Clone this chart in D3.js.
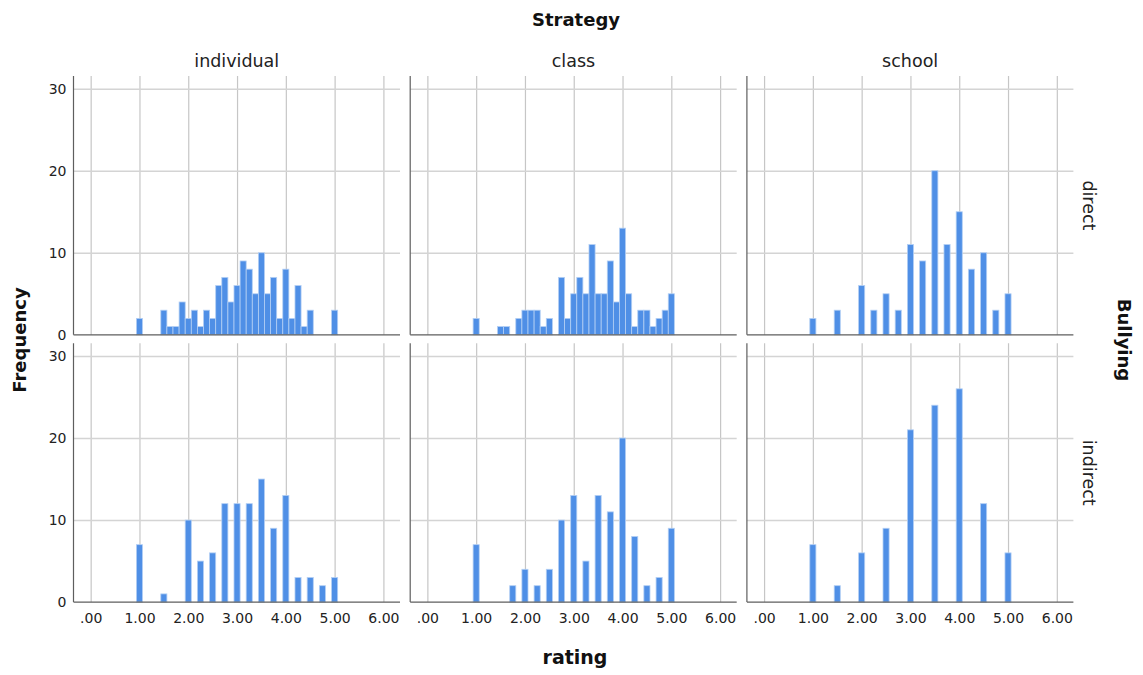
<!DOCTYPE html>
<html>
<head>
<meta charset="utf-8">
<script src="https://cdn.jsdelivr.net/npm/d3@7"></script>
<style>
  html, body { margin: 0; padding: 0; background: #ffffff; }
  svg { display: block; font-family: "DejaVu Sans", sans-serif; }
</style>
</head>
<body>
<svg id="chart" width="1143" height="675"></svg>
<script>
// ---------------- data ----------------
const strategies = ["individual", "class", "school"];
const bullyingTypes = ["direct", "indirect"];
const xTicks = [0, 1, 2, 3, 4, 5, 6];
const yTicks = [0, 10, 20, 30];
const binWidth = 0.125;

const individualDirectRating = [1.0, 1.5, 1.625, 1.75, 1.875, 2.0, 2.125, 2.25, 2.375, 2.5, 2.625, 2.75, 2.875, 3.0, 3.125, 3.25, 3.375, 3.5, 3.625, 3.75, 3.875, 4.0, 4.125, 4.25, 4.375, 4.5, 5.0];
const individualDirectFreq   = [2, 3, 1, 1, 4, 2, 3, 1, 3, 2, 6, 7, 4, 6, 9, 8, 5, 10, 5, 7, 2, 8, 2, 6, 1, 3, 3];

const classDirectRating = [1.0, 1.5, 1.625, 1.875, 2.0, 2.125, 2.25, 2.375, 2.5, 2.75, 2.875, 3.0, 3.125, 3.25, 3.375, 3.5, 3.625, 3.75, 3.875, 4.0, 4.125, 4.25, 4.375, 4.5, 4.625, 4.75, 4.875, 5.0];
const classDirectFreq   = [2, 1, 1, 2, 3, 3, 3, 1, 2, 7, 2, 5, 7, 5, 11, 5, 5, 9, 4, 13, 5, 1, 3, 3, 1, 2, 3, 5];

const schoolDirectRating = [1.0, 1.5, 2.0, 2.25, 2.5, 2.75, 3.0, 3.25, 3.5, 3.75, 4.0, 4.25, 4.5, 4.75, 5.0];
const schoolDirectFreq   = [2, 3, 6, 3, 5, 3, 11, 9, 20, 11, 15, 8, 10, 3, 5];

const individualIndirectRating = [1.0, 1.5, 2.0, 2.25, 2.5, 2.75, 3.0, 3.25, 3.5, 3.75, 4.0, 4.25, 4.5, 4.75, 5.0];
const individualIndirectFreq   = [7, 1, 10, 5, 6, 12, 12, 12, 15, 9, 13, 3, 3, 2, 3];

const classIndirectRating = [1.0, 1.75, 2.0, 2.25, 2.5, 2.75, 3.0, 3.25, 3.5, 3.75, 4.0, 4.25, 4.5, 4.75, 5.0];
const classIndirectFreq   = [7, 2, 4, 2, 4, 10, 13, 5, 13, 11, 20, 8, 2, 3, 9];

const schoolIndirectRating = [1.0, 1.5, 2.0, 2.5, 3.0, 3.5, 4.0, 4.5, 5.0];
const schoolIndirectFreq   = [7, 2, 6, 9, 21, 24, 26, 12, 6];

// table built from the arrays above
const panels = [
  { row: 0, col: 0, rating: individualDirectRating, freq: individualDirectFreq },
  { row: 0, col: 1, rating: classDirectRating, freq: classDirectFreq },
  { row: 0, col: 2, rating: schoolDirectRating, freq: schoolDirectFreq },
  { row: 1, col: 0, rating: individualIndirectRating, freq: individualIndirectFreq },
  { row: 1, col: 1, rating: classIndirectRating, freq: classIndirectFreq },
  { row: 1, col: 2, rating: schoolIndirectRating, freq: schoolIndirectFreq }
];

// ---------------- layout ----------------
const left0 = 73.5, colStep = 336.7, panelW = 326.5;
const top0 = 76, rowStep = 267.3, panelH = 258.8;

const x = d3.scaleLinear().domain([-0.352, 6.34]).range([0, panelW]);
const y = d3.scaleLinear().domain([0, 31.55]).range([panelH, 0]);

const barColor = "#4f8fe6";
const barStroke = "#b3cff4";
const fmtX = d => d3.format(".2f")(d).replace(/^0\./, ".");

const svg = d3.select("#chart");

panels.forEach(p => {
  const g = svg.append("g")
    .attr("transform", `translate(${left0 + p.col * colStep},${top0 + p.row * rowStep})`);

  // vertical gridlines
  g.append("g")
    .attr("transform", `translate(0,${panelH})`)
    .call(d3.axisBottom(x).tickValues(xTicks).tickSize(-panelH).tickFormat(""))
    .call(a => a.select(".domain").remove())
    .call(a => a.selectAll("line").attr("stroke", "#c6c6c6").attr("stroke-width", 1.2));

  // horizontal gridlines
  g.append("g")
    .call(d3.axisLeft(y).tickValues(yTicks.filter(v => v > 0)).tickSize(-panelW).tickFormat(""))
    .call(a => a.select(".domain").remove())
    .call(a => a.selectAll("line").attr("stroke", "#d4d4d4").attr("stroke-width", 1.6));

  // bars
  const data = p.rating.map((r, i) => ({ r, f: p.freq[i] }));
  g.selectAll("rect.bar").data(data).join("rect")
    .attr("class", "bar")
    .attr("x", d => x(d.r - binWidth / 2))
    .attr("width", d => x(d.r + binWidth / 2) - x(d.r - binWidth / 2))
    .attr("y", d => y(d.f))
    .attr("height", d => y(0) - y(d.f))
    .attr("fill", barColor)
    .attr("stroke", barStroke)
    .attr("stroke-width", 0.8);

  // axis lines
  g.append("line").attr("x1", 0).attr("x2", panelW).attr("y1", panelH).attr("y2", panelH)
    .attr("stroke", "#5e5e5e").attr("stroke-width", 1.2);
  g.append("line").attr("x1", 0).attr("x2", 0).attr("y1", 0).attr("y2", panelH)
    .attr("stroke", "#5e5e5e").attr("stroke-width", 1.2);

  // y tick labels (first column only)
  if (p.col === 0) {
    g.append("g")
      .call(d3.axisLeft(y).tickValues(yTicks).tickSize(0).tickPadding(7))
      .call(a => a.select(".domain").remove())
      .call(a => a.selectAll("text").attr("font-size", 14).attr("fill", "#222")
        .attr("font-family", "DejaVu Sans, sans-serif"));
  }

  // x tick labels (bottom row only)
  if (p.row === 1) {
    g.append("g")
      .attr("transform", `translate(0,${panelH})`)
      .call(d3.axisBottom(x).tickValues(xTicks).tickSize(0).tickPadding(11).tickFormat(fmtX))
      .call(a => a.select(".domain").remove())
      .call(a => a.selectAll("text").attr("font-size", 14).attr("fill", "#222")
        .attr("font-family", "DejaVu Sans, sans-serif"));
  }
});

// column headers
strategies.forEach((s, i) => {
  svg.append("text")
    .attr("x", left0 + i * colStep + panelW / 2)
    .attr("y", 66.5)
    .attr("text-anchor", "middle")
    .attr("font-size", 17.5)
    .attr("fill", "#222")
    .text(s);
});

// row headers
bullyingTypes.forEach((b, i) => {
  const cy = top0 + i * rowStep + panelH / 2;
  svg.append("text")
    .attr("transform", `translate(1089,${cy}) rotate(90)`)
    .attr("text-anchor", "middle")
    .attr("dy", "0.35em")
    .attr("font-size", 17.5)
    .attr("fill", "#222")
    .text(b);
});

// titles
svg.append("text").attr("x", 576).attr("y", 26).attr("text-anchor", "middle")
  .attr("font-size", 18).attr("font-weight", "bold").attr("fill", "#111").text("Strategy");
svg.append("text").attr("x", 575).attr("y", 664).attr("text-anchor", "middle")
  .attr("font-size", 19).attr("font-weight", "bold").attr("fill", "#111").text("rating");
svg.append("text").attr("transform", "translate(20,340) rotate(-90)").attr("text-anchor", "middle")
  .attr("dy", "0.35em").attr("font-size", 18).attr("font-weight", "bold").attr("fill", "#111").text("Frequency");
svg.append("text").attr("transform", "translate(1124,340) rotate(90)").attr("text-anchor", "middle")
  .attr("dy", "0.35em").attr("font-size", 18).attr("font-weight", "bold").attr("fill", "#111").text("Bullying");
</script>
</body>
</html>
